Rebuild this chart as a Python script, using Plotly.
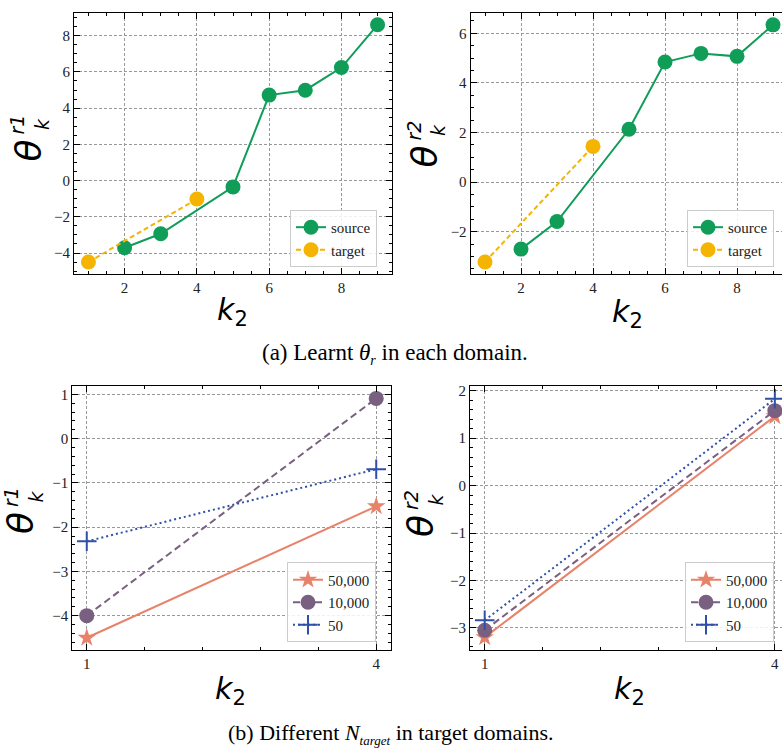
import plotly.graph_objects as go

# ---------------- data ----------------
k_source = [2, 3, 5, 6, 7, 8, 9]
k_target = [1, 4]
r1_source = [-3.71, -2.94, -0.35, 4.72, 4.99, 6.24, 8.60]
r1_target = [-4.50, -1.02]
r2_source = [-2.70, -1.59, 2.13, 4.84, 5.19, 5.07, 6.34]
r2_target = [-3.22, 1.44]

k_b = [1, 4]
n_labels = ["50,000", "10,000", "50"]
r1_n = {"50,000": [-4.50, -1.53], "10,000": [-4.00, 0.91], "50": [-2.32, -0.69]}
r2_n = {"50,000": [-3.20, 1.46], "10,000": [-3.05, 1.58], "50": [-2.84, 1.83]}

caption_a = "(a) Learnt <i>θ</i><sub><span style='font-size:14px'><i>r</i></span></sub> in each domain."
caption_b = "(b) Different <i>N</i><sub><span style='font-size:13px'><i>target</i></span></sub> in target domains."

# ---------------- styles ----------------
W, H = 782, 750
GREEN = "#0F9D58"
YELLOW = "#F4B400"
SALMON = "#E8836B"
PURPLE = "#7A6080"
BLUE = "#2F4FA8"
SERIF = "Liberation Serif"
SANS = "DejaVu Sans"

def px(x):
    return x / W

def py(y):
    return 1 - y / H

fig = go.Figure()

# top row
fig.add_trace(go.Scatter(x=k_source, y=r1_source, mode="lines+markers", name="source",
                         line=dict(color=GREEN, width=2), marker=dict(size=15, color=GREEN),
                         xaxis="x", yaxis="y", legend="legend"))
fig.add_trace(go.Scatter(x=k_target, y=r1_target, mode="lines+markers", name="target",
                         line=dict(color=YELLOW, width=2, dash="5px,3px"), marker=dict(size=15, color=YELLOW),
                         xaxis="x", yaxis="y", legend="legend"))
fig.add_trace(go.Scatter(x=k_source, y=r2_source, mode="lines+markers", name="source",
                         line=dict(color=GREEN, width=2), marker=dict(size=15, color=GREEN),
                         xaxis="x2", yaxis="y2", legend="legend2"))
fig.add_trace(go.Scatter(x=k_target, y=r2_target, mode="lines+markers", name="target",
                         line=dict(color=YELLOW, width=2, dash="5px,3px"), marker=dict(size=15, color=YELLOW),
                         xaxis="x2", yaxis="y2", legend="legend2"))

styles = {
    "50,000": dict(line=dict(color=SALMON, width=2, dash="solid"),
                   marker=dict(symbol="star", size=14, color=SALMON)),
    "10,000": dict(line=dict(color=PURPLE, width=2, dash="7px,4px"),
                   marker=dict(symbol="circle", size=15, color=PURPLE)),
    "50": dict(line=dict(color=BLUE, width=2, dash="2px,3px"),
               marker=dict(symbol="cross-thin", size=14, color=BLUE, line=dict(color=BLUE, width=2))),
}
for lab in n_labels:
    fig.add_trace(go.Scatter(x=k_b, y=r1_n[lab], mode="lines+markers", name=lab,
                             xaxis="x3", yaxis="y3", legend="legend3", **styles[lab]))
for lab in n_labels:
    fig.add_trace(go.Scatter(x=k_b, y=r2_n[lab], mode="lines+markers", name=lab,
                             xaxis="x4", yaxis="y4", legend="legend4", **styles[lab]))

MINOR = dict(ticks="inside", ticklen=3, tickcolor="black", showgrid=False)

def axis(domain, rng, anchor, mirror=True, minor=None, **kw):
    d = dict(domain=domain, range=rng, anchor=anchor,
             showline=True, linecolor="black", linewidth=1,
             mirror="allticks" if mirror else False,
             ticks="inside", ticklen=6, tickwidth=1, tickcolor="black",
             showgrid=True, gridcolor="#999999", griddash="3px,2px", gridwidth=0.8,
             zeroline=False,
             tickfont=dict(family=SERIF, size=15, color="#222"))
    if minor:
        m = dict(MINOR)
        m.update(minor)
        d["minor"] = m
    d.update(kw)
    return d

top_y = [py(272), py(10)]
bot_y = [py(649.3), py(385)]

layout = dict(
    width=W, height=H, margin=dict(l=0, r=0, t=0, b=0),
    paper_bgcolor="white", plot_bgcolor="white",
    xaxis=axis([px(74), px(392)], [0.6, 9.4], "y", dtick=2, tick0=0, minor=dict(dtick=0.5, tick0=0)),
    yaxis=axis(top_y, [-5.155, 9.255], "x", dtick=2, tick0=0, minor=dict(dtick=0.5, tick0=0)),
    xaxis2=axis([px(470.6), 1.0], [0.6, 9.25], "y2", dtick=2, tick0=0, minor=dict(dtick=0.5, tick0=0)),
    yaxis2=axis(top_y, [-3.70, 6.82], "x2", mirror=False, dtick=2, tick0=0, minor=dict(dtick=0.5, tick0=0)),
    xaxis3=axis([px(72.3), px(390.7)], [0.85, 4.15], "y3", tickvals=k_b, minor=dict(dtick=0.6, tick0=1)),
    yaxis3=axis(bot_y, [-4.77, 1.18], "x3", dtick=1, tick0=0, minor=dict(dtick=0.2, tick0=0)),
    xaxis4=axis([px(470), 1.0], [0.848, 4.074], "y4", tickvals=k_b, minor=dict(dtick=0.6, tick0=1)),
    yaxis4=axis(bot_y, [-3.46, 2.09], "x4", mirror=False, dtick=1, tick0=0, minor=dict(dtick=0.2, tick0=0)),
    showlegend=True,
)

def legend(xl, yb):
    return dict(x=px(xl), y=py(yb), xanchor="left", yanchor="bottom",
                bgcolor="rgba(255,255,255,0.85)", bordercolor="#cccccc", borderwidth=1,
                font=dict(family=SERIF, size=15, color="#222"), tracegroupgap=0,
                itemwidth=30)

layout["legend"] = legend(290, 265)
layout["legend2"] = legend(687, 265)
layout["legend3"] = legend(287, 642)
layout["legend4"] = legend(685, 642)
fig.update_layout(**layout)

ann = []
def text(x, y, t, size, family=SANS, angle=0, xanchor="center", yanchor="middle", align="center"):
    ann.append(dict(x=px(x), y=py(y), xref="paper", yref="paper", text=t, showarrow=False,
                    textangle=angle, xanchor=xanchor, yanchor=yanchor, align=align,
                    font=dict(family=family, size=size, color="black")))

# x labels
for (x, y) in [(232, 310), (627, 312), (231, 690), (629, 690)]:
    text(x, y, "<i>k</i><sub>2</sub>", 30)

# y labels (theta with stacked super/subscripts)
def ylabel(cx, cy, sup):
    text(cx, cy, "<i>θ</i>", 36, angle=-90)
    text(cx + 2, cy - 26, f"<i>{sup}</i><br><i>k</i>", 19, angle=-90)

ylabel(28, 148, "r1")
ylabel(424, 154, "r2")
ylabel(21, 522, "r1")
ylabel(421, 525, "r2")

text(395, 352, caption_a, 23, family=SERIF)
text(391, 734, caption_b, 22, family=SERIF)

fig.update_layout(annotations=ann)
fig.write_html("out.html", config={"displayModeBar": False},
               post_script="document.body.style.margin='0';document.body.style.overflow='hidden';")
